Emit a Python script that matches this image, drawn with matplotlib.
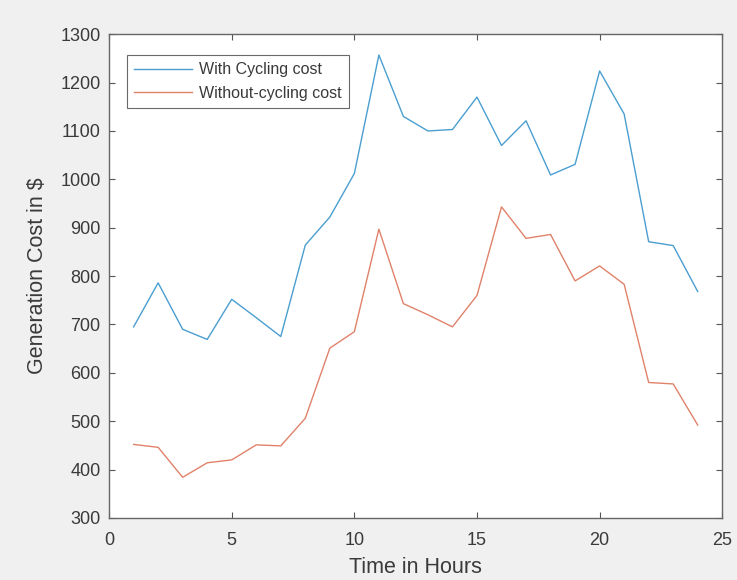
import matplotlib
matplotlib.use("Agg")
import matplotlib.pyplot as plt

hours = list(range(1, 25))
with_cycling = [695, 786, 690, 669, 752, 714, 675, 864, 922, 1012, 1257, 1130,
                1100, 1103, 1170, 1070, 1121, 1009, 1031, 1224, 1135, 871, 863, 768]
without_cycling = [452, 446, 384, 414, 420, 451, 449, 506, 651, 685, 897, 743,
                   720, 695, 760, 943, 878, 886, 790, 821, 783, 580, 577, 492]

x_ticks = [0, 5, 10, 15, 20, 25]
y_ticks = list(range(300, 1301, 100))

plt.rcParams['font.family'] = ['Liberation Sans', 'DejaVu Sans']

fig = plt.figure(figsize=(7.37, 5.8), dpi=100, facecolor='#f0f0f0')
ax = fig.add_axes([0.148, 0.107, 0.832, 0.834])
ax.set_facecolor('white')

ax.plot(hours, with_cycling, color='#4a9ed0', lw=1.0, label='With Cycling cost')
ax.plot(hours, without_cycling, color='#e0826a', lw=1.0, label='Without-cycling cost')

ax.set_xlim(0, 25)
ax.set_ylim(300, 1300)
ax.set_xticks(x_ticks)
ax.set_yticks(y_ticks)
ax.tick_params(direction='in', top=True, right=True, length=4, width=0.8,
               colors='#555555', labelcolor='#3a3a3a', labelsize=13)
ax.tick_params(axis='y', pad=6)
ax.tick_params(axis='x', pad=10)
for s in ax.spines.values():
    s.set_color('#666666')
    s.set_linewidth(1.0)

ax.set_xlabel('Time in Hours', fontsize=15.5, color='#3a3a3a', labelpad=6)
ax.set_ylabel('Generation Cost in $', fontsize=15.5, color='#3a3a3a', labelpad=9)

leg = ax.legend(loc='upper left', bbox_to_anchor=(0.029, 0.957), fontsize=11.5,
                frameon=True, fancybox=False, edgecolor='#444444',
                handlelength=3.6, handletextpad=0.45, borderpad=0.45,
                labelspacing=0.55, borderaxespad=0)
leg.get_frame().set_linewidth(0.8)
for t in leg.get_texts():
    t.set_color('#3a3a3a')

fig.savefig('out.png', dpi=100, facecolor=fig.get_facecolor())
